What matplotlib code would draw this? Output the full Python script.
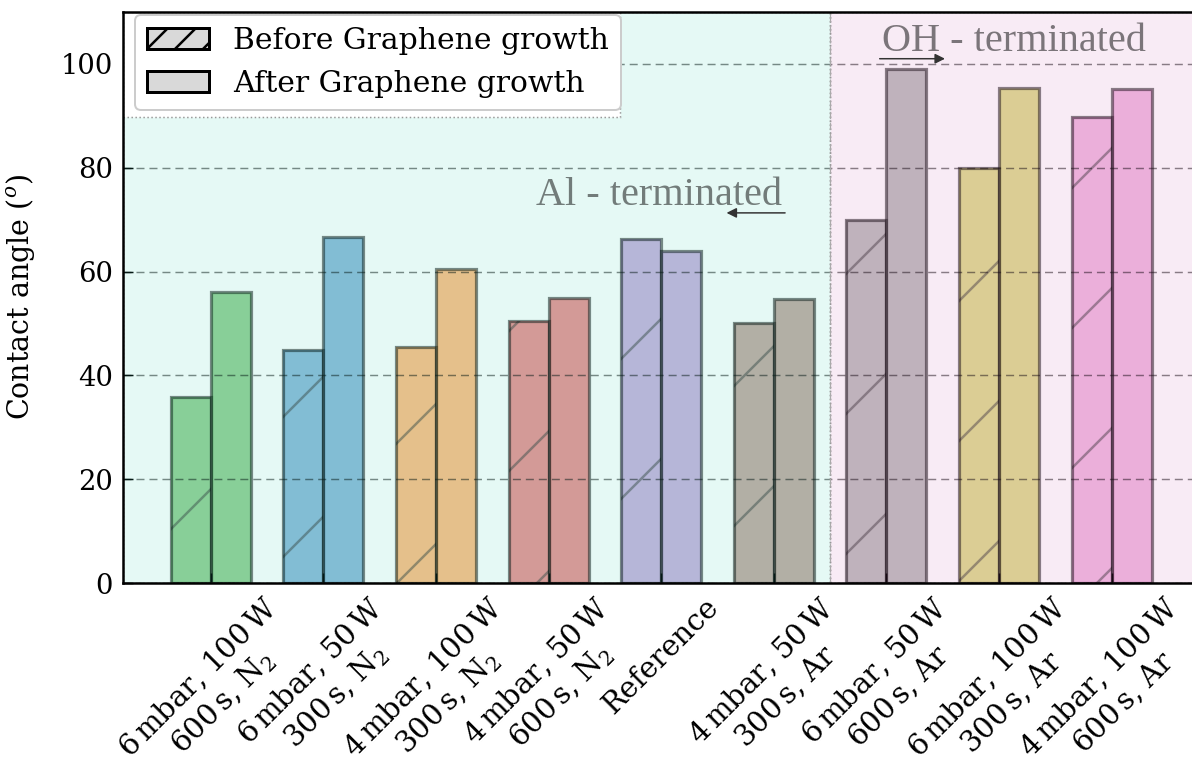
import matplotlib
matplotlib.use("Agg")
import matplotlib.pyplot as plt
from matplotlib.patches import Patch, Rectangle
import numpy as np

DPI = 420
PX = 72 / DPI  # one device pixel in points

labels = [
    "6$\\,$mbar, 100$\\,$W\n600$\\,$s, N$_2$",
    "6$\\,$mbar, 50$\\,$W\n300$\\,$s, N$_2$",
    "4$\\,$mbar, 100$\\,$W\n300$\\,$s, N$_2$",
    "4$\\,$mbar, 50$\\,$W\n600$\\,$s, N$_2$",
    "Reference",
    "4$\\,$mbar, 50$\\,$W\n300$\\,$s, Ar",
    "6$\\,$mbar, 50$\\,$W\n600$\\,$s, Ar",
    "6$\\,$mbar, 100$\\,$W\n300$\\,$s, Ar",
    "4$\\,$mbar, 100$\\,$W\n600$\\,$s, Ar",
]
before = [35.8, 44.8, 45.4, 50.4, 66.3, 50.0, 70.0, 80.0, 89.8]
after = [56.0, 66.7, 60.4, 55.0, 64.0, 54.8, 99.0, 95.4, 95.2]
colors = ["tab:green", "tab:blue", "tab:orange", "tab:red", "tab:purple",
          "tab:brown", "tab:gray", "tab:olive", "tab:pink"]

plt.rcParams["font.family"] = "DejaVu Serif"
plt.rcParams["mathtext.fontset"] = "dejavuserif"
plt.rcParams["hatch.linewidth"] = 2.5 * PX

fig = plt.figure(figsize=(1192 / DPI, 758 / DPI), dpi=DPI)
ax = fig.add_axes([123 / 1192, 175 / 758, 1071 / 1192, 571 / 758])

x = np.arange(len(labels))
w = 0.355
xmin, xmax = -0.78, -0.78 + 1071 / 112.6

# bars: hatch layer first, then the outlines
ax.bar(x - w / 2, before, w, color=colors, alpha=0.5, edgecolor="0.25",
       hatch="/", linewidth=0, zorder=2)
ax.bar(x - w / 2, before, w, fill=False, alpha=0.5, edgecolor="k",
       linewidth=3.2 * PX, zorder=2.1)
ax.bar(x + w / 2, after, w, color=colors, alpha=0.5, edgecolor="k",
       linewidth=3.2 * PX, zorder=2.1)

# tinted regions laid over the bars: Al-terminated / OH-terminated
ax.axvspan(xmin, 5.5, facecolor=(47 / 255, 213 / 255, 180 / 255, 0.12),
           edgecolor="#999999", linestyle=":", linewidth=1.5 * PX, zorder=3)
ax.axvspan(5.5, xmax, facecolor=(205 / 255, 97 / 255, 180 / 255, 0.12),
           edgecolor="#999999", linestyle=":", linewidth=1.5 * PX, zorder=3)
ax.axvline(5.5, color="#aaaaaa", linestyle=(0, (6, 3)), linewidth=1.2 * PX, zorder=3.1)
ax.add_patch(Rectangle((0, 0.816), 0.464, 0.184, transform=ax.transAxes,
                       facecolor="white", edgecolor="#999999", linestyle=":",
                       linewidth=1.5 * PX, zorder=3.2))

ax.set_xlim(xmin, xmax)
ax.set_ylim(0, 110)
ax.set_yticks(range(0, 101, 20))
ax.set_xticks(x)
ax.set_xticklabels(labels, rotation=45, ha="center")
ax.tick_params(direction="in", length=10 * PX, width=1.5 * PX,
               labelsize=4.7, pad=1.7)
ax.tick_params(axis="x", labelsize=5.0)
for s in ax.spines.values():
    s.set_linewidth(2.5 * PX)
    s.set_zorder(4)

ax.grid(axis="y", linestyle=(0, (5.5, 3.4)), linewidth=0.25, color="k", alpha=0.5)
ax.set_axisbelow(False)

ax.set_ylabel("Contact angle ($^o$)", fontsize=4.9, labelpad=4)

ax.text(3.98, 74.6, "Al - terminated", family="Liberation Serif", fontsize=6.9,
        color="k", alpha=0.5, ha="center", va="center", zorder=4)
ax.text(7.13, 104.4, "OH - terminated", family="Liberation Serif", fontsize=6.9,
        color="k", alpha=0.5, ha="center", va="center", zorder=4)
arrow = dict(arrowstyle="-|>", color="#333333", lw=1.5 * PX,
             mutation_scale=3.5, shrinkA=0, shrinkB=0)
ax.annotate("", xy=(4.58, 71.3), xytext=(5.10, 71.3), arrowprops=arrow, zorder=4)
ax.annotate("", xy=(6.52, 101.0), xytext=(5.94, 101.0), arrowprops=arrow, zorder=4)

handles = [
    Patch(facecolor="#d9d9d9", edgecolor="k", hatch="/////", linewidth=3 * PX),
    Patch(facecolor="#d9d9d9", edgecolor="k", linewidth=3 * PX),
]
leg = ax.legend(handles, ["Before Graphene growth", "After Graphene growth"],
                loc="upper left", bbox_to_anchor=(12 / 1071, 1 - 3 / 571),
                borderaxespad=0, fontsize=5.1, framealpha=1, edgecolor="0.8",
                handlelength=2.1, handleheight=0.75, handletextpad=0.8)
leg.get_frame().set_linewidth(2 * PX)
leg.set_zorder(5)

fig.savefig("out.png", dpi=DPI)
